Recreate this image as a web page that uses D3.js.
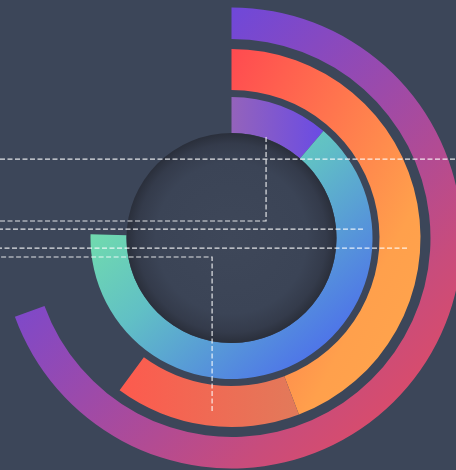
<!DOCTYPE html>
<html>
<head>
<meta charset="utf-8">
<script src="https://cdn.jsdelivr.net/npm/d3@7/dist/d3.min.js"></script>
<style>
  html, body { margin: 0; padding: 0; background: #3c4659; overflow: hidden; }
  svg { display: block; }
</style>
</head>
<body>
<div id="chart"></div>
<script>
// data: stacked polar bars, angle values in degrees of a 0-360 axis
const rings = ['inner', 'middle', 'outer'];
const seriesA = [40.7, 159.1, 250];
const seriesB = [230.8, 57.2, 0];
const angleMax = 360;

// leader lines: end point on the chart (angle value + radius) and the level they run left at
const leaderLayout = [
    { angle: 18.9, r: 106.7, runY: 221 },
    { angle: 71.7, r: 251.2, runY: null },
    { angle: 86.1, r: 131.8, runY: null },
    { angle: 93.3, r: 175.8, runY: null },
    { angle: 186.4, r: 174.1, runY: 257 }
];

const width = 456, height = 470;
const cx = 231.5, cy = 238;

// ring radii (inner, outer) per category
const ringRadius = d3.scaleOrdinal()
    .domain(rings)
    .range([[105, 141], [148, 189], [199, 230.5]]);

const angle = d3.scaleLinear().domain([0, angleMax]).range([0, 2 * Math.PI]);

// gradient per segment
const segmentStyles = {
    'inner-A':  { dir: [0, 0, 1, 0], stops: [[0, '#9463bb'], [1, '#6a4be4']] },
    'inner-B':  { dir: [0, 0, 1, 1], stops: [[0, '#7ef29a'], [0.45, '#61c0c5'], [1, '#4758f6']] },
    'middle-A': { dir: [0, 0, 1, 1], stops: [[0, '#ff4a50'], [0.7, '#ffa04c'], [1, '#ffa64c']] },
    'middle-B': { dir: [0, 0, 1, 0], stops: [[0, '#fd5a4e'], [1, '#e27a5a']] },
    'outer-A':  { dir: [0, 0, 1, 1], stops: [[0, '#5a46ee'], [0.25, '#7048d8'], [0.75, '#c84c7c'], [1, '#ec4c58']] }
};

const svg = d3.select('#chart')
    .append('svg')
    .attr('width', width)
    .attr('height', height);

svg.append('rect')
    .attr('width', width)
    .attr('height', height)
    .attr('fill', '#3c4659');

const defs = svg.append('defs');

Object.entries(segmentStyles).forEach(([key, s]) => {
    const g = defs.append('linearGradient')
        .attr('id', 'grad-' + key)
        .attr('x1', s.dir[0]).attr('y1', s.dir[1])
        .attr('x2', s.dir[2]).attr('y2', s.dir[3]);
    s.stops.forEach(st => {
        g.append('stop').attr('offset', st[0]).attr('stop-color', st[1]);
    });
});

// inset look for the middle disc
const disc = defs.append('radialGradient').attr('id', 'disc');
[[0, '#3e4759'], [0.72, '#3b4456'], [0.9, '#343b4b'], [1, '#2a2f3b']].forEach(st => {
    disc.append('stop').attr('offset', st[0]).attr('stop-color', st[1]);
});

// build stacked segments
const segments = [];
rings.forEach((ring, i) => {
    segments.push({ key: ring + '-A', ring, start: 0, end: seriesA[i] });
    if (seriesB[i] > 0) {
        segments.push({ key: ring + '-B', ring, start: seriesA[i], end: seriesA[i] + seriesB[i] });
    }
});

const arc = d3.arc()
    .innerRadius(d => ringRadius(d.ring)[0])
    .outerRadius(d => ringRadius(d.ring)[1])
    .startAngle(d => angle(d.start))
    .endAngle(d => angle(d.end));

const g = svg.append('g').attr('transform', `translate(${cx},${cy})`);

g.selectAll('path.seg')
    .data(segments)
    .enter()
    .append('path')
    .attr('class', 'seg')
    .attr('d', arc)
    .attr('fill', d => `url(#grad-${d.key})`);

g.append('circle')
    .attr('r', ringRadius('inner')[0])
    .attr('fill', 'url(#disc)');

// leader lines on top
const line = d3.line();
svg.append('g')
    .selectAll('path')
    .data(leaderLayout)
    .enter()
    .append('path')
    .attr('d', d => {
        const a = angle(d.angle);
        const x = cx + d.r * Math.sin(a);
        const y = cy - d.r * Math.cos(a);
        const pts = d.runY == null
            ? [[x, y], [0, y]]
            : [[x, y], [x, d.runY], [0, d.runY]];
        return line(pts);
    })
    .attr('fill', 'none')
    .attr('stroke', 'rgba(255,255,255,0.85)')
    .attr('stroke-width', 1.2)
    .attr('stroke-dasharray', '5,2.5');
</script>
</body>
</html>
